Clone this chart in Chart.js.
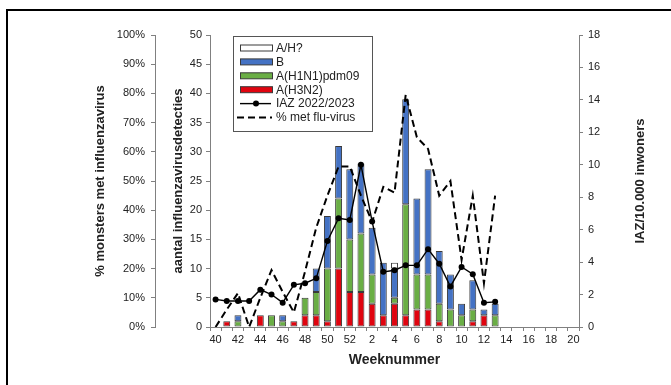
<!DOCTYPE html>
<html>
<head>
<meta charset="utf-8">
<script src="https://cdn.jsdelivr.net/npm/chart.js@4/dist/chart.umd.min.js"></script>
<style>
  html, body { margin: 0; padding: 0; background: #fff; }
</style>
</head>
<body>
<canvas id="flu" width="671" height="385"></canvas>
<script>
// weeknummers 40..52 en 1..20
var weeks = ["40","41","42","43","44","45","46","47","48","49","50","51","52",
  "1","2","3","4","5","6","7","8","9","10","11","12","13","14","15","16","17","18","19","20"];

// aantal detecties per week (week 40 t/m 13)
var h3n2 = [0,1,0,0,2,0,0,1,2,2,1,10,6,6,4,2,4,2,3,3,1,0,0,1,2,0];
var h1n1 = [0,0,1,0,0,2,1,0,3,4,9,12,9,10,5,0,1,19,6,6,3,3,2,2,0,2];
var typeB = [0,0,1,0,0,0,1,0,0,4,9,9,12,12,8,9,5,18,13,18,9,6,2,5,1,2];
var aUnknown = [0,0,0,0,0,0,0,0,0,0,0,0,0,0,0,0,1,0,0,0,0,0,0,0,0,0];

// IAZ per 10.000 inwoners en % monsters met influenzavirus
var iaz = [1.7,1.6,1.6,1.6,2.3,2.0,1.5,2.6,2.7,3.0,5.3,6.7,6.6,10.0,6.5,3.4,3.5,3.8,3.8,4.8,3.9,2.5,3.7,3.25,1.5,1.55];
var pctFlu = [0,6,11.6,0,10,19.5,12,5,19,34,45,55,55,45,36,48,46,79.5,65,61,45,50,23,45,15,45];

var FONT = "'Liberation Sans', Arial, sans-serif";
var AXIS = "#808080";
var TXT = "#222";

// aanvullen tot week 20
function pad(arr) {
  var out = arr.slice();
  while (out.length < weeks.length) out.push(null);
  return out;
}

var barBase = {
  type: 'bar',
  yAxisID: 'y',
  borderColor: '#3a3a3a',
  borderWidth: 1,
  borderSkipped: false,
  barPercentage: 0.62,
  categoryPercentage: 1.0
};

var datasets = [
  { type: 'line', label: 'IAZ 2022/2023', data: pad(iaz), yAxisID: 'yIAZ',
    borderColor: '#000', backgroundColor: '#000', borderWidth: 1.4,
    pointRadius: 3, pointBackgroundColor: '#000', pointBorderWidth: 0, tension: 0 },
  { type: 'line', label: '% met flu-virus', data: pad(pctFlu), yAxisID: 'yPct',
    borderColor: '#000', borderWidth: 2, borderDash: [7, 4], pointRadius: 0, tension: 0 },
  Object.assign({}, barBase, { label: 'A(H3N2)', data: pad(h3n2), backgroundColor: '#e0040f' }),
  Object.assign({}, barBase, { label: 'A(H1N1)pdm09', data: pad(h1n1), backgroundColor: '#6aae45' }),
  Object.assign({}, barBase, { label: 'B', data: pad(typeB), backgroundColor: '#4472c4' }),
  Object.assign({}, barBase, { label: 'A/H?', data: pad(aUnknown), backgroundColor: '#ffffff' })
];

// volgorde in de legenda
var legendOrder = ['A/H?', 'B', 'A(H1N1)pdm09', 'A(H3N2)', 'IAZ 2022/2023', '% met flu-virus'];

var extras = {
  id: 'extras',
  afterDraw: function (chart) {
    var ctx = chart.ctx;
    var area = chart.chartArea;
    ctx.save();

    // rand om de figuur
    ctx.strokeStyle = '#000';
    ctx.lineWidth = 2;
    ctx.strokeRect(7, 10, 720, 420);

    // titel rechter as (leest van onder naar boven)
    ctx.fillStyle = TXT;
    ctx.font = 'bold 13px ' + FONT;
    ctx.textAlign = 'center';
    ctx.textBaseline = 'middle';
    ctx.translate(640, (area.top + area.bottom) / 2);
    ctx.rotate(-Math.PI / 2);
    ctx.fillText('IAZ/10.000 inwoners', 0, 0);
    ctx.restore();

    // legenda
    ctx.save();
    var bx = 233, by = 36, bw = 139, bh = 95;
    ctx.fillStyle = '#fff';
    ctx.fillRect(bx, by, bw, bh);
    ctx.strokeStyle = '#555';
    ctx.lineWidth = 1;
    ctx.strokeRect(bx + 0.5, by + 0.5, bw, bh);
    ctx.font = '12px ' + FONT;
    ctx.textBaseline = 'middle';
    ctx.textAlign = 'left';
    legendOrder.forEach(function (label, i) {
      var ds = chart.data.datasets.find(function (d) { return d.label === label; });
      var y = by + 12 + i * 13.9;
      if (ds.type === 'bar') {
        ctx.fillStyle = ds.backgroundColor;
        ctx.fillRect(240, y - 3, 32, 6);
        ctx.strokeStyle = '#3a3a3a';
        ctx.strokeRect(240.5, y - 3, 32, 6);
      } else {
        ctx.strokeStyle = '#000';
        ctx.lineWidth = ds.borderWidth;
        ctx.setLineDash(ds.borderDash || []);
        ctx.beginPath();
        ctx.moveTo(ds.borderDash ? 237 : 240, y);
        ctx.lineTo(ds.borderDash ? 272 : 271, y);
        ctx.stroke();
        ctx.setLineDash([]);
        if (ds.pointRadius) {
          ctx.fillStyle = '#000';
          ctx.beginPath();
          ctx.arc(256, y, 3, 0, Math.PI * 2);
          ctx.fill();
        }
      }
      ctx.fillStyle = TXT;
      ctx.fillText(label, 276, y + 0.5);
    });
    ctx.restore();
  }
};

new Chart(document.getElementById('flu'), {
  type: 'bar',
  data: { labels: weeks, datasets: datasets },
  plugins: [extras],
  options: {
    responsive: false,
    animation: false,
    layout: { padding: { left: 88, right: 52, top: 35, bottom: 10 } },
    plugins: { legend: { display: false }, tooltip: { enabled: false } },
    scales: {
      x: {
        stacked: true,
        offset: true,
        grid: { offset: true, drawOnChartArea: false, tickLength: 4, color: AXIS },
        border: { color: AXIS },
        ticks: {
          autoSkip: false, maxRotation: 0, padding: 2, color: TXT,
          font: { family: FONT, size: 11 },
          callback: function (v, i) { return i % 2 === 0 ? weeks[i] : ''; }
        },
        title: { display: true, text: 'Weeknummer', color: TXT,
          font: { family: FONT, size: 14, weight: 'bold' }, padding: { top: 0, bottom: 6 } },
        afterFit: function (s) { s.height = 48; }
      },
      y: {
        stacked: true,
        position: 'left',
        weight: 0,
        min: 0, max: 50,
        grid: { drawOnChartArea: false, tickLength: 4, color: AXIS },
        border: { color: AXIS },
        ticks: { stepSize: 5, padding: 4, color: TXT, font: { family: FONT, size: 11 } },
        title: { display: true, text: 'aantal influenzavirusdetecties', color: TXT,
          font: { family: FONT, size: 13, weight: 'bold' }, padding: { top: 16, bottom: 0 } },
        afterFit: function (s) { s.width = 55; }
      },
      yPct: {
        position: 'left',
        weight: 1,
        min: 0, max: 100,
        grid: { drawOnChartArea: false, tickLength: 4, color: AXIS },
        border: { color: AXIS },
        ticks: { stepSize: 10, padding: 6, color: TXT, font: { family: FONT, size: 11 },
          callback: function (v) { return v + '%'; } },
        title: { display: true, text: '% monsters met influenzavirus', color: TXT,
          font: { family: FONT, size: 13, weight: 'bold' }, padding: { top: 5, bottom: 0 } },
        afterFit: function (s) { s.width = 67; }
      },
      yIAZ: {
        position: 'right',
        min: 0, max: 18,
        grid: { drawOnChartArea: false, tickLength: 4, color: AXIS },
        border: { color: AXIS },
        ticks: { stepSize: 2, padding: 5, color: TXT, font: { family: FONT, size: 11 } },
        afterFit: function (s) { s.width = 40; }
      }
    }
  }
});
</script>
</body>
</html>
